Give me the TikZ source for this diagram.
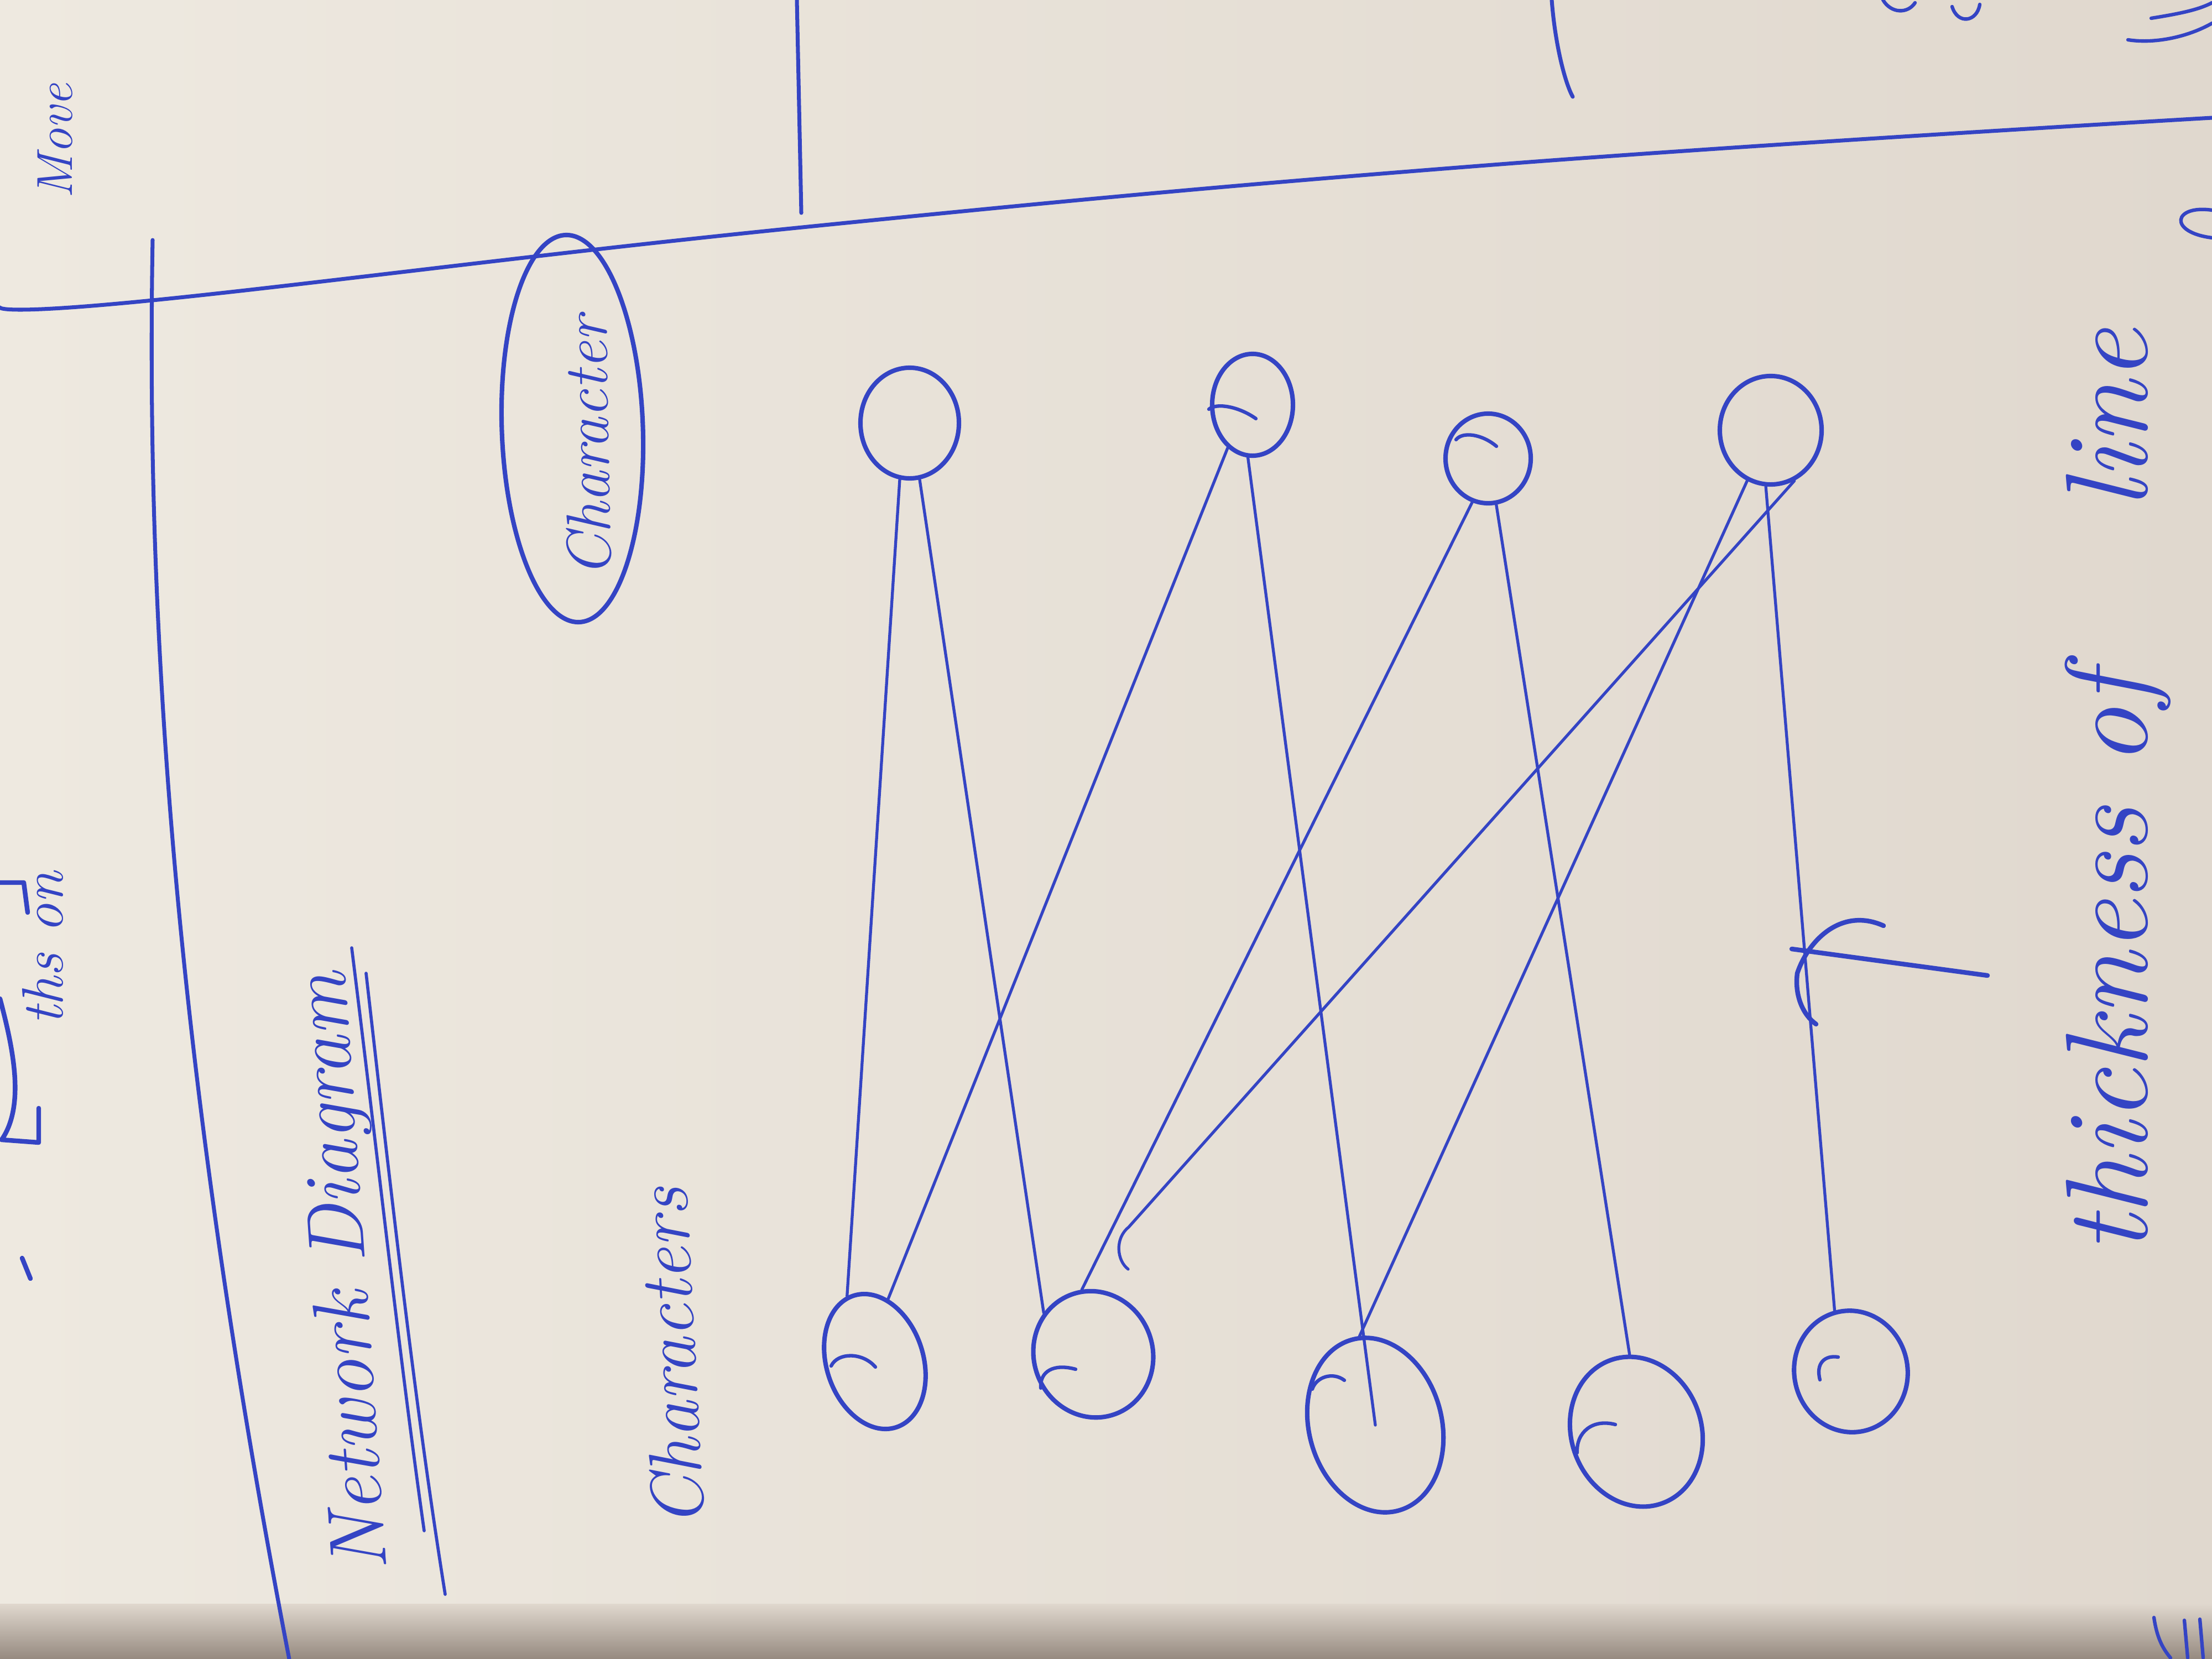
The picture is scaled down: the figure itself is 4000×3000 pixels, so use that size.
\documentclass[tikz,border=0pt]{standalone}
\usetikzlibrary{shapes.geometric,calc}
\definecolor{paper}{RGB}{238,233,224}
\definecolor{paperdark}{RGB}{224,216,206}
\definecolor{ink}{RGB}{52,68,196}
\definecolor{shade}{RGB}{150,138,128}
\begin{document}
\begin{tikzpicture}[x=0.01cm,y=-0.01cm,
  pen/.style={draw=ink, line width=2.4pt, line cap=round, line join=round},
  edge/.style={draw=ink, line width=1.5pt, line cap=round},
  hook/.style={draw=ink, line width=1.8pt, line cap=round},
  circ/.style={ellipse, draw=ink, line width=2.3pt, inner sep=0pt},
  hand/.style={text=ink, inner sep=0pt, font=\itshape\fontsize{#1}{#1}\selectfont},
  hand/.default=40
]
% paper
\useasboundingbox (0,0) rectangle (4000,3000);
\shade[left color=paper, right color=paperdark] (0,0) rectangle (4000,3000);
\shade[top color=paperdark, bottom color=shade] (0,2900) rectangle (4000,3000);

% page rules
\draw[pen, line width=2pt] plot[smooth, tension=0.7] coordinates {(0,556) (276,543) (1441,412) (2700,298) (4000,213)};
\draw[pen, line width=2pt] (276,434) .. controls (262,1200) and (330,2000) .. (523,3000);
\draw[pen, line width=2pt] (1441,0) -- (1449,385);
\draw[pen, line width=2pt] (2806,0) .. controls (2812,80) and (2830,150) .. (2844,175);

% cut-off writing at the right edge
\draw[hook] (3405,0) .. controls (3420,25) and (3450,25) .. (3463,5);
\draw[hook] (3530,12) .. controls (3540,45) and (3575,40) .. (3580,8);
\draw[hook] (3890,33) .. controls (3940,25) and (3975,18) .. (4000,5);
\draw[hook] (3848,72) .. controls (3900,80) and (3960,65) .. (4000,42);
\draw[hook] (4000,380) .. controls (3930,370) and (3920,420) .. (4000,430);
\draw[hook] (3895,2925) .. controls (3900,2960) and (3910,2980) .. (3925,2998);
\draw[hook] (3950,2930) -- (3956,2998);
\draw[hook] (3978,2928) -- (3984,2998);

% margin notes
\node[hand=26, rotate=90] (move) at (100,255) {Move};
\node[hand=30, rotate=90, anchor=north] (thson) at (40,1715) {ths on};
\draw[pen] (0,1596) -- (43,1596) -- (50,1650);
\draw[pen] (0,1806) .. controls (25,1900) and (45,2000) .. (3,2061) -- (70,2066) -- (70,2004);
\draw[pen] (40,2275) -- (55,2312);

% title
\node[hand=41, rotate=94] (title) at (626,2300) {Network Diagram};
\draw[pen, line width=1.6pt] (636,1714) .. controls (684,2100) and (722,2450) .. (767,2768);
\draw[pen, line width=1.6pt] (662,1760) .. controls (712,2200) and (752,2550) .. (805,2883);

\node[hand=38, rotate=93] (chars) at (1212,2455) {Characters};

% legend node
\node[ellipse, draw=ink, line width=2.3pt, rotate=92, minimum width=7cm, minimum height=2.55cm] (legend) at (1035,775) {};
\node[hand=32, rotate=91] (legendtext) at (1062,808) {Character};

% character nodes
\node[circ, minimum width=1.78cm, minimum height=2.0cm] (T1) at (1645,765) {};
\node[circ, minimum width=1.46cm, minimum height=1.84cm] (T2) at (2265,732) {};
\node[circ, minimum width=1.54cm, minimum height=1.62cm] (T3) at (2691,829) {};
\node[circ, minimum width=1.84cm, minimum height=1.96cm] (T4) at (3202,778) {};

\node[circ, rotate=18, minimum width=1.75cm, minimum height=2.5cm] (B1) at (1582,2462) {};
\node[circ, rotate=20, minimum width=2.15cm, minimum height=2.3cm] (B2) at (1977,2449) {};
\node[circ, rotate=15, minimum width=2.4cm, minimum height=3.2cm] (B3) at (2487,2577) {};
\node[circ, rotate=20, minimum width=2.35cm, minimum height=2.75cm] (B4) at (2959,2589) {};
\node[circ, rotate=10, minimum width=2.05cm, minimum height=2.2cm] (B5) at (3347,2480) {};

% pen-start hooks inside the circles
\draw[hook] (1583,2472) .. controls (1560,2445) and (1515,2445) .. (1503,2470);
\draw[hook] (1945,2476) .. controls (1905,2465) and (1880,2480) .. (1882,2510);
\draw[hook] (2431,2496) .. controls (2410,2480) and (2380,2490) .. (2373,2512);
\draw[hook] (2921,2576) .. controls (2880,2565) and (2850,2590) .. (2852,2627);
\draw[hook] (3324,2454) .. controls (3300,2450) and (3283,2465) .. (3291,2495);
\draw[hook] (2271,757) .. controls (2240,735) and (2200,728) .. (2186,740);
\draw[hook] (2706,807) .. controls (2680,785) and (2645,780) .. (2633,795);

% connections
\draw[edge] (T1.-100) -- (B1.95);
\draw[edge] (T1.-80) -- (B2.120);
\draw[edge] (T2.-120) -- (B1.60);
\draw[edge] (T2.-95) -- (B3.center);
\draw[edge] (T3.-110) -- (B2.80);
\draw[edge] (T3.-80) -- (B4.75);
\draw[edge] (T4.-115) -- (B3.85);
\coordinate (loose) at (2041,2219);
\draw[edge] (T4.-65) -- (loose) .. controls (2015,2240) and (2020,2280) .. (2040,2295);
\draw[edge] (T4.-95) -- (B5.95);

% pointer to the line
\coordinate (ptail) at (3594,1764);
\coordinate (ptip) at (3240,1716);
\draw[pen] (ptail) -- (ptip);
\draw[pen] (3406,1674) .. controls (3330,1640) and (3270,1700) .. (3250,1760) .. controls (3245,1800) and (3260,1835) .. (3284,1852);

\node[hand=60, rotate=90] (thick) at (3830,1430) {thickness of\hspace{1.4em}line};
\end{tikzpicture}
\end{document}
